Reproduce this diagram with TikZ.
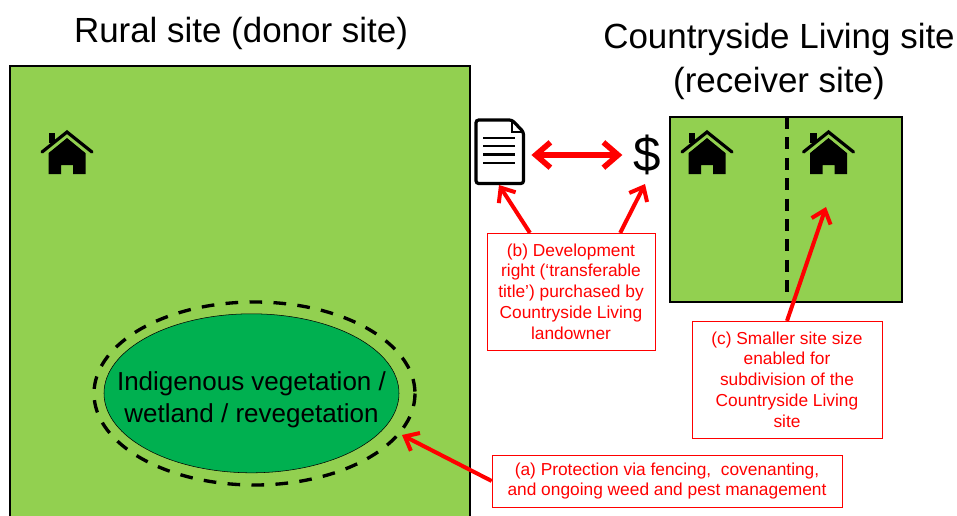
\documentclass[tikz,border=0pt]{standalone}
\usepackage{fontspec}
\setmainfont{Liberation Sans}
\usetikzlibrary{arrows.meta}

\tikzset{
	sitebox/.style={draw=black, thick, fill=sitegreen},
	title/.style={font=\fontsize{26.2}{33}\selectfont, align=center, inner sep=0pt},
	callout/.style={draw=red, text=red, fill=white, font=\fontsize{13}{15.6}\selectfont, align=center, inner sep=0pt},
	redarrow/.style={draw=red, line width=3pt, -{Straight Barb[length=9pt,width=15pt,line width=3pt]}},
	redboth/.style={draw=red, line width=4.2pt, {Straight Barb[length=11pt,width=19pt,line width=4.2pt]}-{Straight Barb[length=11pt,width=19pt,line width=4.2pt]}},
	house/.pic={
		\fill[black] (-18.5,1) -- (0,-14) -- (18.5,1) -- (18.5,22) -- (6,22) -- (6,13) -- (-6,13) -- (-6,22) -- (-18.5,22) -- cycle;
		\fill[black] (-18.5,-19) rectangle (-12,-9);
		\draw[black, line width=2.4pt, line cap=round, fill=none] (-25,0) -- (0,-20) -- (25,0);
		\draw[sitegreen, line width=1pt] (-20,1) -- (0,-15.5) -- (20,1);
	}
}
\definecolor{sitegreen}{HTML}{92D050}
\definecolor{coregreen}{HTML}{00B050}

\begin{document}
\begin{tikzpicture}[x=0.75pt, y=-0.75pt]

\useasboundingbox (0,0) rectangle (957,515);

% sites
\begin{scope}
\clip (0,0) rectangle (957,515);
\draw[sitebox] (10,66) rectangle (470,530);
\end{scope}
\draw[sitebox] (670,117) rectangle (902,302);
\draw[black, line width=2.4pt, dash pattern=on 9pt off 6.3pt] (787,117) -- (787,302);

\foreach \x/\name in {67/donor,707/left,828.5/right}
{
	\pic (house\name) at (\x,152) {house};
}

% protected area
\draw[fill=coregreen, draw=black] (251.5,393.3) ellipse (147.5 and 79.5);
\draw[black, line width=2.5pt, dash pattern=on 9.5pt off 8.5pt] (254.5,393.5) ellipse (160.5 and 91.5);
\node[font=\fontsize{19.5}{23.8}\selectfont, align=center, inner sep=0pt] (bush) at (251.5,400) {Indigenous vegetation /\\wetland / revegetation};

\node[title] (ruraltitle) at (241,33) {Rural site (donor site)};
\node[title] (receivertitle) at (779,61) {Countryside Living site\\(receiver site)};

% transferable title
\node[minimum width=35.5pt, minimum height=47.5pt, inner sep=0pt] (doc) at (499.5,155) {};
\draw[black, line width=2.4pt, rounded corners=2pt, fill=white] (476,120) -- (512,120) -- (523.5,132) -- (523.5,183.5) -- (476,183.5) -- cycle;
\draw[black, line width=1.4pt] (512,120) -- (512,132) -- (523.5,132);
\foreach \y in {138,146,154.5,163}
{
	\draw[black, line width=1.7pt] (483,\y) -- (515,\y);
}
\node[font=\fontsize{37}{40}\selectfont, inner sep=0pt] (dollar) at (647,155) {\$};
\coordinate (tipdoc) at (499,185);
\coordinate (tipdollar) at (645,184);
\coordinate (tipsite) at (826,207);
\coordinate (tipbush) at (402,435);

% labels
\node[callout, minimum width=126pt, minimum height=87.5pt] (labelb) at (571,291.5) {(b) Development\\right (‘transferable\\title’) purchased by\\Countryside Living\\landowner};
\node[callout, minimum width=142.5pt, minimum height=87.5pt] (labelc) at (787,379.5) {(c) Smaller site size\\enabled for\\subdivision of the\\Countryside Living\\site};
\node[callout, minimum width=262.5pt, minimum height=39pt] (labela) at (667,481) {(a) Protection via fencing,\ \ covenanting,\\and ongoing weed and pest management};

\draw[redboth, shorten <=6pt, shorten >=8pt] (doc) -- (dollar);
\draw[redarrow] (labelb.125) -- (tipdoc);
\draw[redarrow] (labelb.50) -- (tipdollar);
\draw[redarrow] (labelc.north) -- (tipsite);
\draw[redarrow] (labela.west) -- (tipbush);

\end{tikzpicture}
\end{document}
